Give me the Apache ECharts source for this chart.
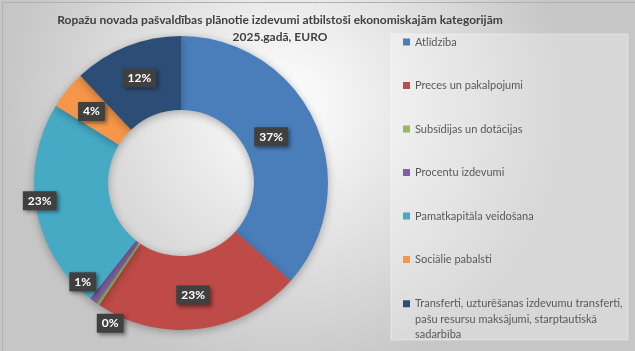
<!DOCTYPE html>
<html>
<head>
<meta charset="utf-8">
<script src="https://cdn.jsdelivr.net/npm/echarts@6/dist/echarts.min.js"></script>
<style>
  html, body { margin: 0; padding: 0; background: #fff; }
  #chart { width: 635px; height: 351px; }
</style>
</head>
<body>
<div id="chart"></div>
<script>
// izdevumu kategorijas un to daļa (%)
var categories = [
    'Atlīdzība',
    'Preces un pakalpojumi',
    'Subsīdijas un dotācijas',
    'Procentu izdevumi',
    'Pamatkapitāla veidošana',
    'Sociālie pabalsti',
    'Transferti, uzturēšanas izdevumu transferti, pašu resursu maksājumi, starptautiskā sadarbība'
];
var shares = [36.6, 22.8, 0.3, 0.9, 23.2, 4.2, 12.0];
var colors = ['#4a7ebb', '#be4b48', '#98b954', '#7d60a0', '#46aac5', '#f59649', '#2c4d75'];
// label nudges (Excel placed some of them by hand)
var labelOffsets = [[-13, 0], [-2, 0], [-7, 47], [-31, 8], [-30, -2], [-2, 0], [0, 0]];
// how the long legend entry wraps in the original
var longLegendLines = [
    'Transferti, uzturēšanas izdevumu transferti,',
    'pašu resursu maksājumi, starptautiskā',
    'sadarbība'
];

var chart = echarts.init(document.getElementById('chart'));

var pieData = categories.map(function(name, i) {
    return {
        name: name,
        value: shares[i],
        itemStyle: { color: colors[i] },
        label: { offset: labelOffsets[i] }
    };
});

var option = {
    animation: false,
    backgroundColor: {
        type: 'radial', x: 0.45, y: 0.3, r: 0.8,
        colorStops: [{ offset: 0, color: '#ffffff' }, { offset: 1, color: '#c6c6c6' }]
    },
    graphic: [
        {
            type: 'rect', left: 0, top: 0, silent: true,
            shape: { width: 634, height: 350 },
            style: { fill: 'none', stroke: '#b0b0b0', lineWidth: 1 }
        },
        {
            type: 'rect', silent: true, z: -1,
            shape: { x: 391, y: 34, width: 237, height: 306 },
            style: { fill: 'rgba(255,255,255,0.3)', stroke: 'rgba(255,255,255,0.4)' }
        },
        {
            type: 'text', silent: true,
            style: {
                x: 280, y: 12, text: 'Ropažu novada pašvaldības plānotie izdevumi atbilstoši ekonomiskajām kategorijām\n2025.gadā, EURO',
                align: 'center', verticalAlign: 'top', lineHeight: 17,
                fill: '#3f3f3f', font: 'bold 12px Lato'
            }
        }
    ],
    legend: [
        {
            orient: 'vertical', left: 403, top: 35, padding: 0,
            itemWidth: 7, itemHeight: 7, itemGap: 29.5, icon: 'rect',
            data: categories.slice(0, 6),
            textStyle: { color: '#595959', fontSize: 11, fontFamily: 'Lato', lineHeight: 14 }
        },
        {
            orient: 'vertical', left: 403, top: 265, padding: 0,
            itemWidth: 7, itemHeight: 7, icon: 'rect',
            data: categories.slice(6),
            // two empty lines on top keep the marker beside the first text line
            formatter: function() { return '\n\n' + longLegendLines.join('\n'); },
            textStyle: { color: '#595959', fontSize: 11, fontFamily: 'Lato', lineHeight: 15.5 }
        }
    ],
    series: [{
        type: 'pie',
        center: [181, 183],
        radius: [73, 147],
        startAngle: 90,
        clockwise: true,
        avoidLabelOverlap: false,
        itemStyle: {
            shadowBlur: 8,
            shadowColor: 'rgba(0,0,0,0.3)',
            shadowOffsetY: 2
        },
        label: {
            show: true,
            position: 'inside',
            formatter: function(p) { return Math.round(p.percent) + '%'; },
            color: '#fff',
            fontFamily: 'Lato',
            fontWeight: 'bold',
            fontSize: 12,
            backgroundColor: '#404040',
            padding: [4, 5, 3, 5],
            shadowBlur: 4,
            shadowColor: 'rgba(0,0,0,0.45)',
            shadowOffsetX: 2,
            shadowOffsetY: 2
        },
        labelLine: { show: false },
        emphasis: { disabled: true },
        data: pieData
    }]
};

chart.setOption(option);
</script>
</body>
</html>
